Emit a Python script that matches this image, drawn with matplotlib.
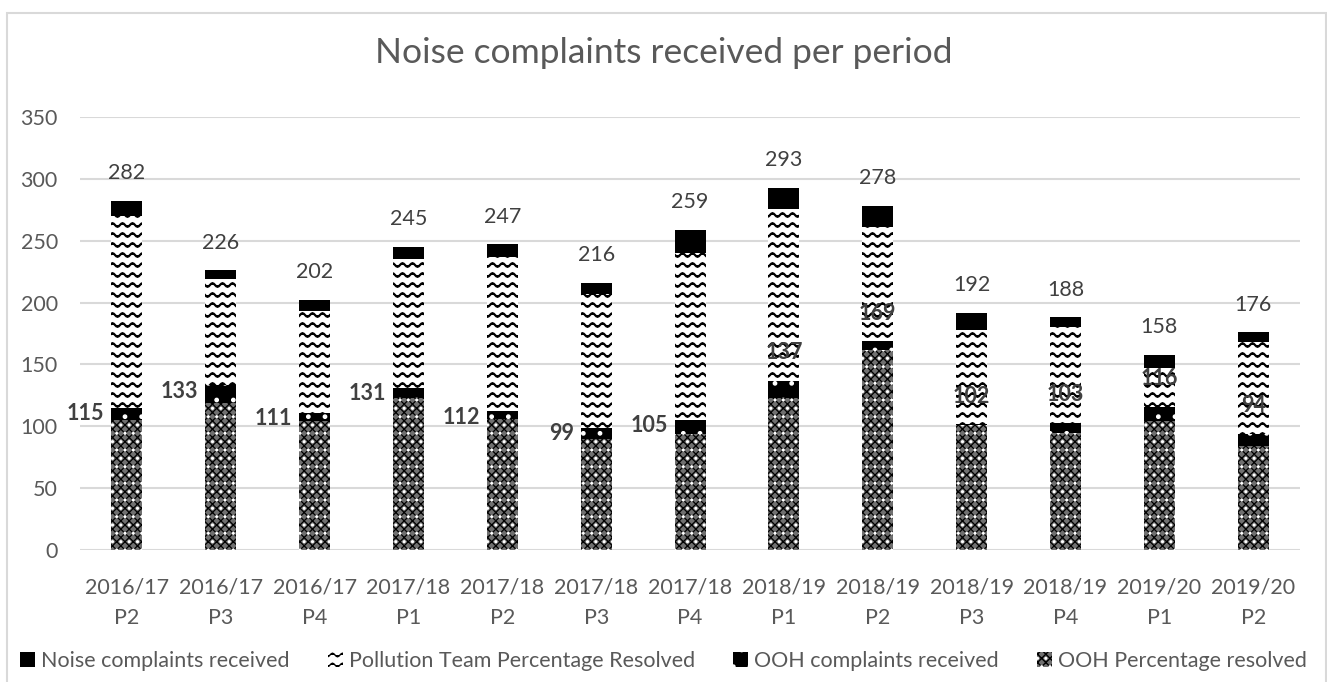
import warnings
import numpy as np
import matplotlib
matplotlib.use('Agg')
import matplotlib.pyplot as plt
import matplotlib.hatch as mhatch
from matplotlib.path import Path as MPath
from matplotlib.patches import Rectangle

warnings.filterwarnings('ignore')

periods = ['2016/17\nP2', '2016/17\nP3', '2016/17\nP4', '2017/18\nP1', '2017/18\nP2',
           '2017/18\nP3', '2017/18\nP4', '2018/19\nP1', '2018/19\nP2', '2018/19\nP3',
           '2018/19\nP4', '2019/20\nP1', '2019/20\nP2']
noise_received = [282, 226, 202, 245, 247, 216, 259, 293, 278, 192, 188, 158, 176]
pollution_resolved = [270, 219, 193, 235, 237, 207, 240, 276, 261, 178, 180, 147, 168]
ooh_received = [115, 133, 111, 131, 112, 99, 105, 137, 169, 102, 103, 116, 94]
ooh_resolved = [105, 119, 104, 123, 106, 90, 94, 123, 162, 101, 95, 104, 84]

series_names = ['Noise complaints received', 'Pollution Team Percentage Resolved',
                'OOH complaints received', 'OOH Percentage resolved']


# matplotlib has no wavy hatch, so register one for '~'
class WaveHatch(mhatch.HatchPatternBase):
  def __init__(self, hatch, density):
    self.num_lines = hatch.count('~') * 5
    self.n_pts = 81
    self.num_vertices = self.num_lines * self.n_pts

  def set_vertices_and_codes(self, vertices, codes):
    n = self.n_pts
    xs = np.linspace(0.0, 1.0, n)
    for i in range(self.num_lines):
      y0 = (i + 0.5) / self.num_lines
      vertices[i * n:(i + 1) * n, 0] = xs
      vertices[i * n:(i + 1) * n, 1] = y0 + 0.018 * np.sin(2 * np.pi * 10 * xs)
      codes[i * n] = MPath.MOVETO
      codes[i * n + 1:(i + 1) * n] = MPath.LINETO

mhatch._hatch_types.append(WaveHatch)

plt.rcParams['font.family'] = ['Lato', 'DejaVu Sans']
plt.rcParams['hatch.linewidth'] = 1.0

grey = '#595959'
dark = '#404040'

fig = plt.figure(figsize=(13.27, 6.82), dpi=100)
ax = fig.add_axes([0.0603, 0.1935, 0.9194, 0.6349])

x = np.arange(len(periods))
w = 0.33

b_noise = ax.bar(x, noise_received, w, color='black', lw=0, zorder=2)
b_poll = ax.bar(x, pollution_resolved, w, facecolor='white', edgecolor='black',
                hatch='~~', lw=0, zorder=3)
b_ooh = ax.bar(x, ooh_received, w, facecolor='black', edgecolor='white',
               hatch='.', lw=0, zorder=4)
b_res = ax.bar(x, ooh_resolved, w, facecolor='#707070', edgecolor='black',
               hatch='xxxx', lw=0, zorder=5)
b_res_dots = ax.bar(x, ooh_resolved, w, fill=False, edgecolor='white',
                    hatch='..', lw=0, zorder=6)

for p in b_poll:
  if hasattr(p, 'set_hatch_linewidth'):
    p.set_hatch_linewidth(1.6)
for p in b_res:
  if hasattr(p, 'set_hatch_linewidth'):
    p.set_hatch_linewidth(0.9)

for i in range(len(periods)):
  ax.annotate(str(noise_received[i]), (x[i], noise_received[i]), xytext=(0, 20),
              textcoords='offset points', ha='center', va='center',
              fontsize=15.5, color=dark, zorder=7)
  if i < 7:
    ax.annotate(str(ooh_received[i]), (x[i] - w / 2, ooh_received[i]), xytext=(-5, -4),
                textcoords='offset points', ha='right', va='center',
                fontsize=15.5, fontweight='bold', color=dark, zorder=7)
  else:
    ax.annotate(str(ooh_received[i]), (x[i], ooh_received[i]), xytext=(0, 20),
                textcoords='offset points', ha='center', va='center',
                fontsize=15.5, fontweight='bold', color=dark, zorder=7)

ax.set_xlim(-0.5, len(periods) - 0.5)
ax.set_ylim(0, 350)
ax.set_yticks(range(0, 351, 50))
ax.set_xticks(x)
ax.set_xticklabels(periods, linespacing=1.65)
ax.tick_params(axis='both', length=0, labelsize=15.5, labelcolor=grey)
ax.tick_params(axis='x', pad=20)
ax.tick_params(axis='y', pad=16)
ax.grid(axis='y', color='#d9d9d9', lw=1.5, zorder=0)
ax.set_axisbelow(True)
for s in ax.spines.values():
  s.set_visible(False)

fig.text(0.5, 1 - 53 / 682, 'Noise complaints received per period',
         ha='center', va='center', fontsize=25.5, color=grey)

handles = [b_noise[0], b_poll[0], b_ooh[0], (b_res[0], b_res_dots[0])]
fig.legend(handles, series_names, loc='center', bbox_to_anchor=(0.5, 1 - 661 / 682),
           ncol=4, frameon=False, fontsize=15.5, labelcolor=grey,
           handlelength=0.7, handleheight=0.7, handletextpad=0.3, columnspacing=1.75)

fig.add_artist(Rectangle((0.0053, -0.01), 0.9939, 0.991, transform=fig.transFigure,
                         fill=False, edgecolor='#d9d9d9', lw=1.5))

fig.savefig('out.png', dpi=100)
